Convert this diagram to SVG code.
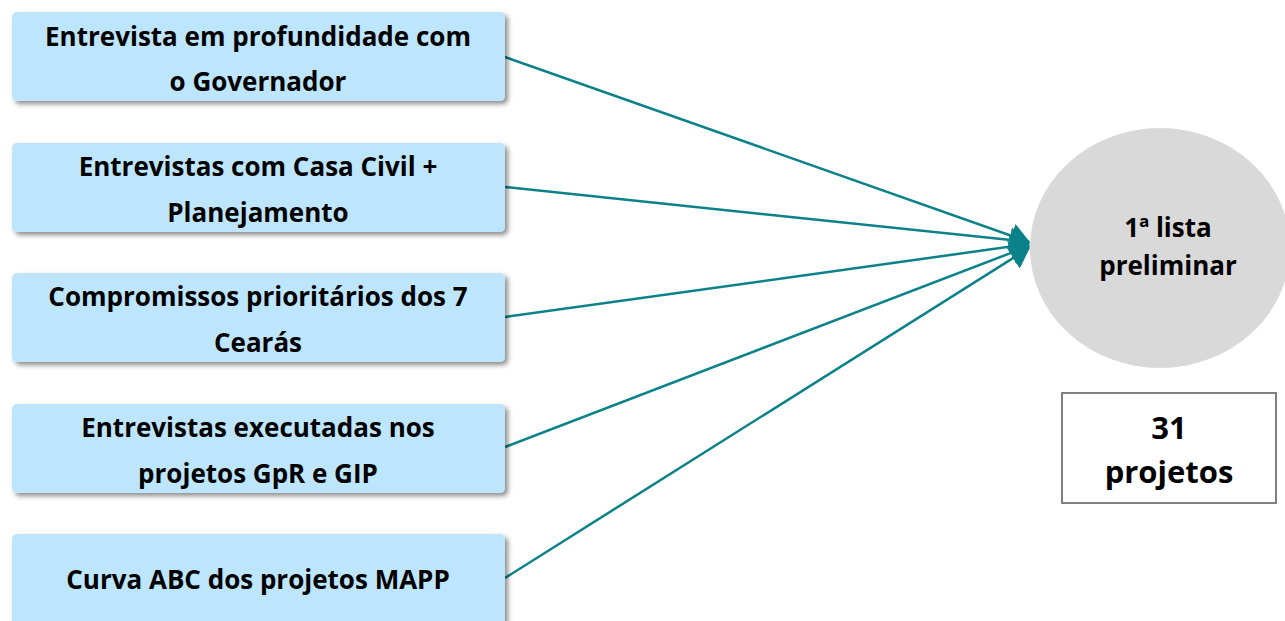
<svg xmlns="http://www.w3.org/2000/svg" width="1285" height="621" viewBox="0 0 1285 621">
<style>
.box{fill:#BDE5FB;filter:url(#sh)}
.t{font-family:"Open Sans","Liberation Sans",sans-serif;font-weight:bold;font-size:26px;fill:#000;text-anchor:middle}
.c{stroke:#0B8189;stroke-width:2.5;fill:none;marker-end:url(#ah)}
</style>
<defs>
<filter id="sh" x="-5%" y="-10%" width="115%" height="130%">
<feDropShadow dx="3" dy="3" stdDeviation="2.5" flood-color="#000" flood-opacity="0.45"/>
</filter>
<marker id="ah" markerWidth="9" markerHeight="11" refX="7.5" refY="5.5" orient="auto" markerUnits="strokeWidth">
<path d="M0,0.5 L8,5.5 L0,10.5 Z" fill="#0B8189"/>
</marker>
</defs>
<g id="connectors">
<line class="c" x1="505" y1="57" x2="1029" y2="242"/>
<line class="c" x1="505" y1="187" x2="1029" y2="242"/>
<line class="c" x1="505" y1="317" x2="1029" y2="244"/>
<line class="c" x1="505" y1="447" x2="1029" y2="246"/>
<line class="c" x1="505" y1="578" x2="1029" y2="248"/>
</g>
<g id="n1"><rect class="box" x="12" y="12" width="493" height="89" rx="5"/>
<text class="t" x="258" y="46">Entrevista em profundidade com</text><text class="t" x="258" y="91">o Governador</text></g>
<g id="n2"><rect class="box" x="12" y="143" width="493" height="89" rx="5"/>
<text class="t" x="258" y="176">Entrevistas com Casa Civil +</text><text class="t" x="258" y="222">Planejamento</text></g>
<g id="n3"><rect class="box" x="12" y="273" width="493" height="89" rx="5"/>
<text class="t" x="258" y="306">Compromissos prioritários dos 7</text><text class="t" x="258" y="352">Cearás</text></g>
<g id="n4"><rect class="box" x="12" y="404" width="493" height="89" rx="5"/>
<text class="t" x="258" y="437">Entrevistas executadas nos</text><text class="t" x="258" y="483">projetos GpR e GIP</text></g>
<g id="n5"><rect class="box" x="12" y="534" width="493" height="100" rx="5"/>
<text class="t" x="258" y="589">Curva ABC dos projetos MAPP</text></g>
<g id="circle"><ellipse cx="1160" cy="248" rx="130" ry="120" fill="#D9D9D9"/>
<text class="t" x="1168" y="237">1ª lista</text><text class="t" x="1168" y="275">preliminar</text></g>
<g id="result"><rect x="1062" y="393" width="214" height="110" fill="#fff" stroke="#808080" stroke-width="2"/>
<text class="t" x="1169" y="439" style="font-size:31px">31</text><text class="t" x="1169" y="483" style="font-size:31px">projetos</text></g>
</svg>
